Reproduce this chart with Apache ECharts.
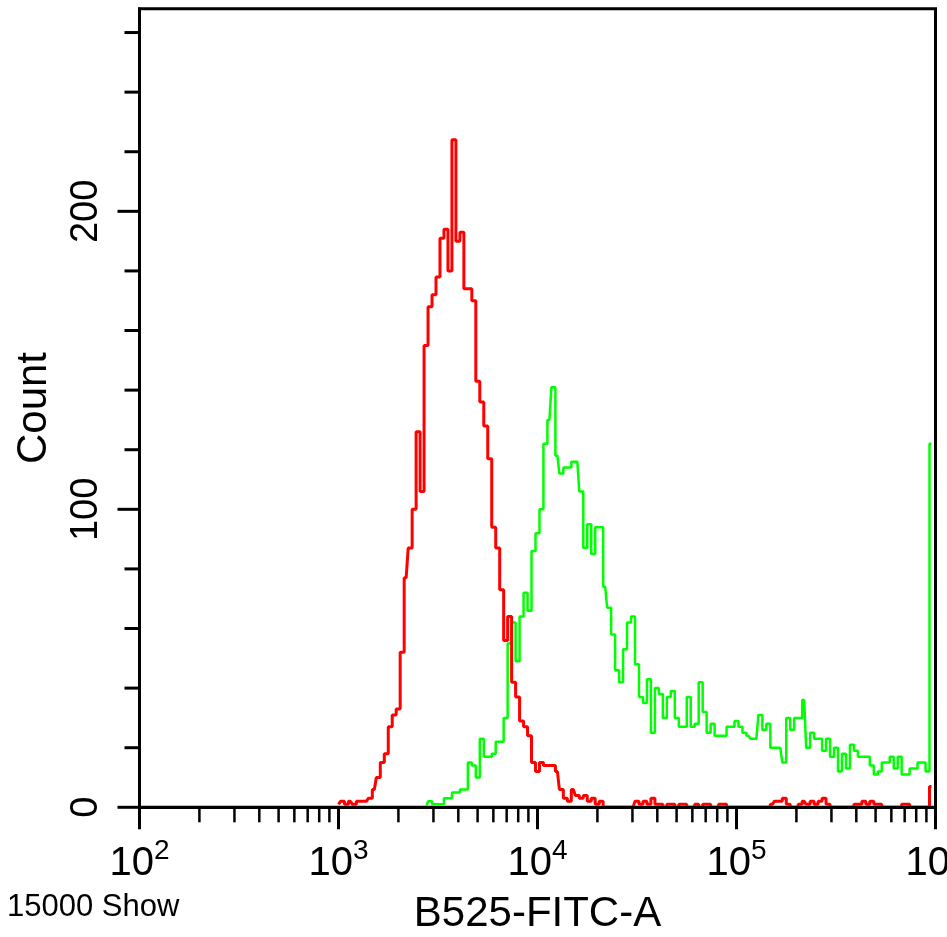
<!DOCTYPE html>
<html>
<head>
<meta charset="utf-8">
<title>B525-FITC-A histogram</title>
<script src="https://cdn.jsdelivr.net/npm/echarts@6/dist/echarts.min.js"></script>
<style>
  html, body { margin: 0; padding: 0; background: #fff; }
  #chart { width: 947px; height: 937px; }
</style>
</head>
<body>
<div id="chart"></div>
<script>
// histogram bin centres (B525-FITC-A intensity), 50 bins per decade
const bins = [
  1000, 1047, 1096, 1148, 1202, 1259, 1318, 1380, 1445, 1514, 1585, 1660, 1738, 1820, 1905, 1995, 2089, 2188, 2291, 2399,
  2512, 2630, 2754, 2884, 3020, 3162, 3311, 3467, 3631, 3802, 3981, 4169, 4365, 4571, 4786, 5012, 5248, 5495, 5754, 6026,
  6310, 6607, 6918, 7244, 7586, 7943, 8318, 8710, 9120, 9550,
  10000, 10470, 10960, 11480, 12020, 12590, 13180, 13800, 14450, 15140, 15850, 16600, 17380, 18200, 19050, 19950, 20890, 21880, 22910, 23990,
  25120, 26300, 27540, 28840, 30200, 31620, 33110, 34670, 36310, 38020, 39810, 41690, 43650, 45710, 47860, 50120, 52480, 54950, 57540, 60260,
  63100, 66070, 69180, 72440, 75860, 79430, 83180, 87100, 91200, 95500,
  100000, 104700, 109600, 114800, 120200, 125900, 131800, 138000, 144500, 151400, 158500, 166000, 173800, 182000, 190500, 199500, 208900, 218800, 229100, 239900,
  251200, 263000, 275400, 288400, 302000, 316200, 331100, 346700, 363100, 380200, 398100, 416900, 436500, 457100, 478600, 501200, 524800, 549500, 575400, 602600,
  631000, 660700, 691800, 724400, 758600, 794300, 831800, 871000, 912000, 955000
];

// counts per bin
const redCounts = [
  1, 2, 1, 2, 1, 2, 2, 2, 3, 6,
  10, 15, 18, 27, 31, 33, 52, 77, 87, 100,
  126, 106, 155, 168, 172, 178, 191, 194, 180, 224,
  190, 193, 174, 174, 170, 143, 136, 128, 117, 94,
  87, 73, 56, 64, 42, 37, 29, 27, 24, 15,
  12, 15, 14, 14, 14, 12, 6, 3, 2, 6,
  4, 3, 4, 2, 3, 1, 2, 0, 0, 0,
  0, 0, 0, 0, 0, 2, 1, 2, 1, 3,
  1, 1, 0, 1, 1, 0, 1, 1, 0, 0,
  1, 0, 1, 1, 0, 0, 1, 1, 0, 0,
  0, 0, 0, 0, 0, 0, 0, 0, 0, 1,
  2, 2, 3, 1, 0, 0, 1, 2, 1, 2,
  1, 2, 3, 1, 0, 0, 0, 0, 0, 0,
  1, 1, 2, 1, 2, 1, 1, 0, 0, 0,
  0, 0, 1, 1, 0, 0, 0, 0, 0, 7
];

const greenCounts = [
  0, 0, 0, 0, 0, 0, 0, 0, 0, 0,
  0, 0, 0, 0, 0, 0, 0, 0, 0, 0,
  0, 0, 0, 2, 1, 1, 1, 3, 3, 5,
  5, 6, 6, 15, 14, 10, 23, 17, 17, 18,
  22, 22, 30, 55, 62, 49, 64, 72, 66, 86,
  92, 100, 122, 130, 141, 118, 112, 114, 114, 116,
  116, 106, 87, 95, 85, 94, 94, 74, 67, 58,
  46, 42, 53, 62, 64, 48, 37, 35, 43, 25,
  40, 38, 30, 37, 39, 30, 27, 27, 37, 27,
  28, 42, 32, 25, 28, 24, 24, 24, 27, 27,
  29, 27, 25, 24, 23, 23, 31, 26, 28, 20,
  20, 20, 15, 30, 26, 30, 30, 36, 20, 25,
  23, 23, 19, 23, 17, 20, 12, 18, 13, 21,
  19, 17, 17, 17, 14, 11, 12, 15, 15, 17,
  13, 17, 11, 11, 13, 13, 15, 15, 12, 122
];

// axis ticks
const xMinorTicks = [
  200, 300, 400, 500, 600, 700, 800, 900,
  2000, 3000, 4000, 5000, 6000, 7000, 8000, 9000,
  20000, 30000, 40000, 50000, 60000, 70000, 80000, 90000,
  200000, 300000, 400000, 500000, 600000, 700000, 800000, 900000
];
const yMajorTicks = [0, 100, 200];
const yMinorTicks = [20, 40, 60, 80, 120, 140, 160, 180, 220, 240, 260];

const FONT = '"Liberation Sans", Arial, sans-serif';

// short black tick marks drawn through the axis scales
function tickSeries(data, orient, len, width) {
  return {
    type: "custom",
    silent: true,
    clip: false,
    z: 12,
    data: data,
    renderItem: function (params, api) {
      const p = api.coord([api.value(0), api.value(1)]);
      const shape = orient === "x"
        ? { x1: p[0], y1: p[1], x2: p[0], y2: p[1] + len }
        : { x1: p[0], y1: p[1], x2: p[0] - len, y2: p[1] };
      return { type: "line", shape: shape, style: { stroke: "#000", lineWidth: width } };
    },
  };
}

const myChart = echarts.init(document.getElementById("chart"));

const option = {
  animation: false,
  backgroundColor: "#fff",
  grid: {
    left: 139.5,
    top: 8.7,
    right: 11.5,
    bottom: 129.7,
    outerBoundsMode: "none",
    containLabel: false,
    show: true,
    borderColor: "#000",
    borderWidth: 3,
    backgroundColor: "transparent",
  },
  xAxis: {
    type: "log",
    logBase: 10,
    min: 100,
    max: 1000000,
    z: 10,
    name: "B525-FITC-A",
    nameLocation: "middle",
    nameGap: 86,
    nameTextStyle: { fontSize: 42, fontFamily: FONT, color: "#000" },
    axisLine: { lineStyle: { color: "#000", width: 3 } },
    axisTick: { show: true, length: 22, lineStyle: { color: "#000", width: 3 } },
    minorTick: { show: false },
    splitLine: { show: false },
    axisLabel: {
      margin: 30,
      fontSize: 40,
      fontFamily: FONT,
      color: "#000",
      hideOverlap: false,
      formatter: (v) => "10{e|" + Math.round(Math.log10(v)) + "}",
      rich: {
        e: { fontSize: 28, fontFamily: FONT, color: "#000", padding: [0, 0, 26, 0] },
      },
    },
  },
  yAxis: {
    type: "value",
    min: 0,
    max: 268,
    interval: 100,
    z: 10,
    name: "Count",
    nameLocation: "middle",
    nameRotate: 90,
    nameGap: 84,
    nameTextStyle: { fontSize: 42, fontFamily: FONT, color: "#000" },
    axisLine: { show: true, lineStyle: { color: "#000", width: 3 } },
    axisTick: { show: false },
    splitLine: { show: false },
    axisLabel: {
      rotate: 90,
      margin: 34,
      fontSize: 38,
      fontFamily: FONT,
      color: "#000",
      formatter: (v) => (v % 100 === 0 ? String(v) : ""),
    },
  },
  graphic: [
    {
      type: "text",
      left: 7,
      top: 892,
      style: { text: "15000 Show", font: "31px " + FONT, fill: "#000" },
    },
  ],
  series: [
    {
      name: "stained",
      type: "line",
      step: "middle",
      showSymbol: false,
      z: 3,
      lineStyle: { color: "#00ff00", width: 2.5 },
      data: bins.map((b, i) => [b, greenCounts[i]]),
    },
    {
      name: "control",
      type: "line",
      step: "middle",
      showSymbol: false,
      z: 4,
      lineStyle: { color: "#ff0000", width: 3 },
      data: bins.map((b, i) => [b, redCounts[i]]),
    },
    tickSeries(xMinorTicks.map((v) => [v, 0]), "x", 15, 2.5),
    tickSeries(yMajorTicks.map((v) => [100, v]), "y", 22, 3),
    tickSeries(yMinorTicks.map((v) => [100, v]), "y", 15, 3),
  ],
};

myChart.setOption(option);
window.addEventListener("resize", () => {
  myChart.resize();
});
</script>
</body>
</html>
